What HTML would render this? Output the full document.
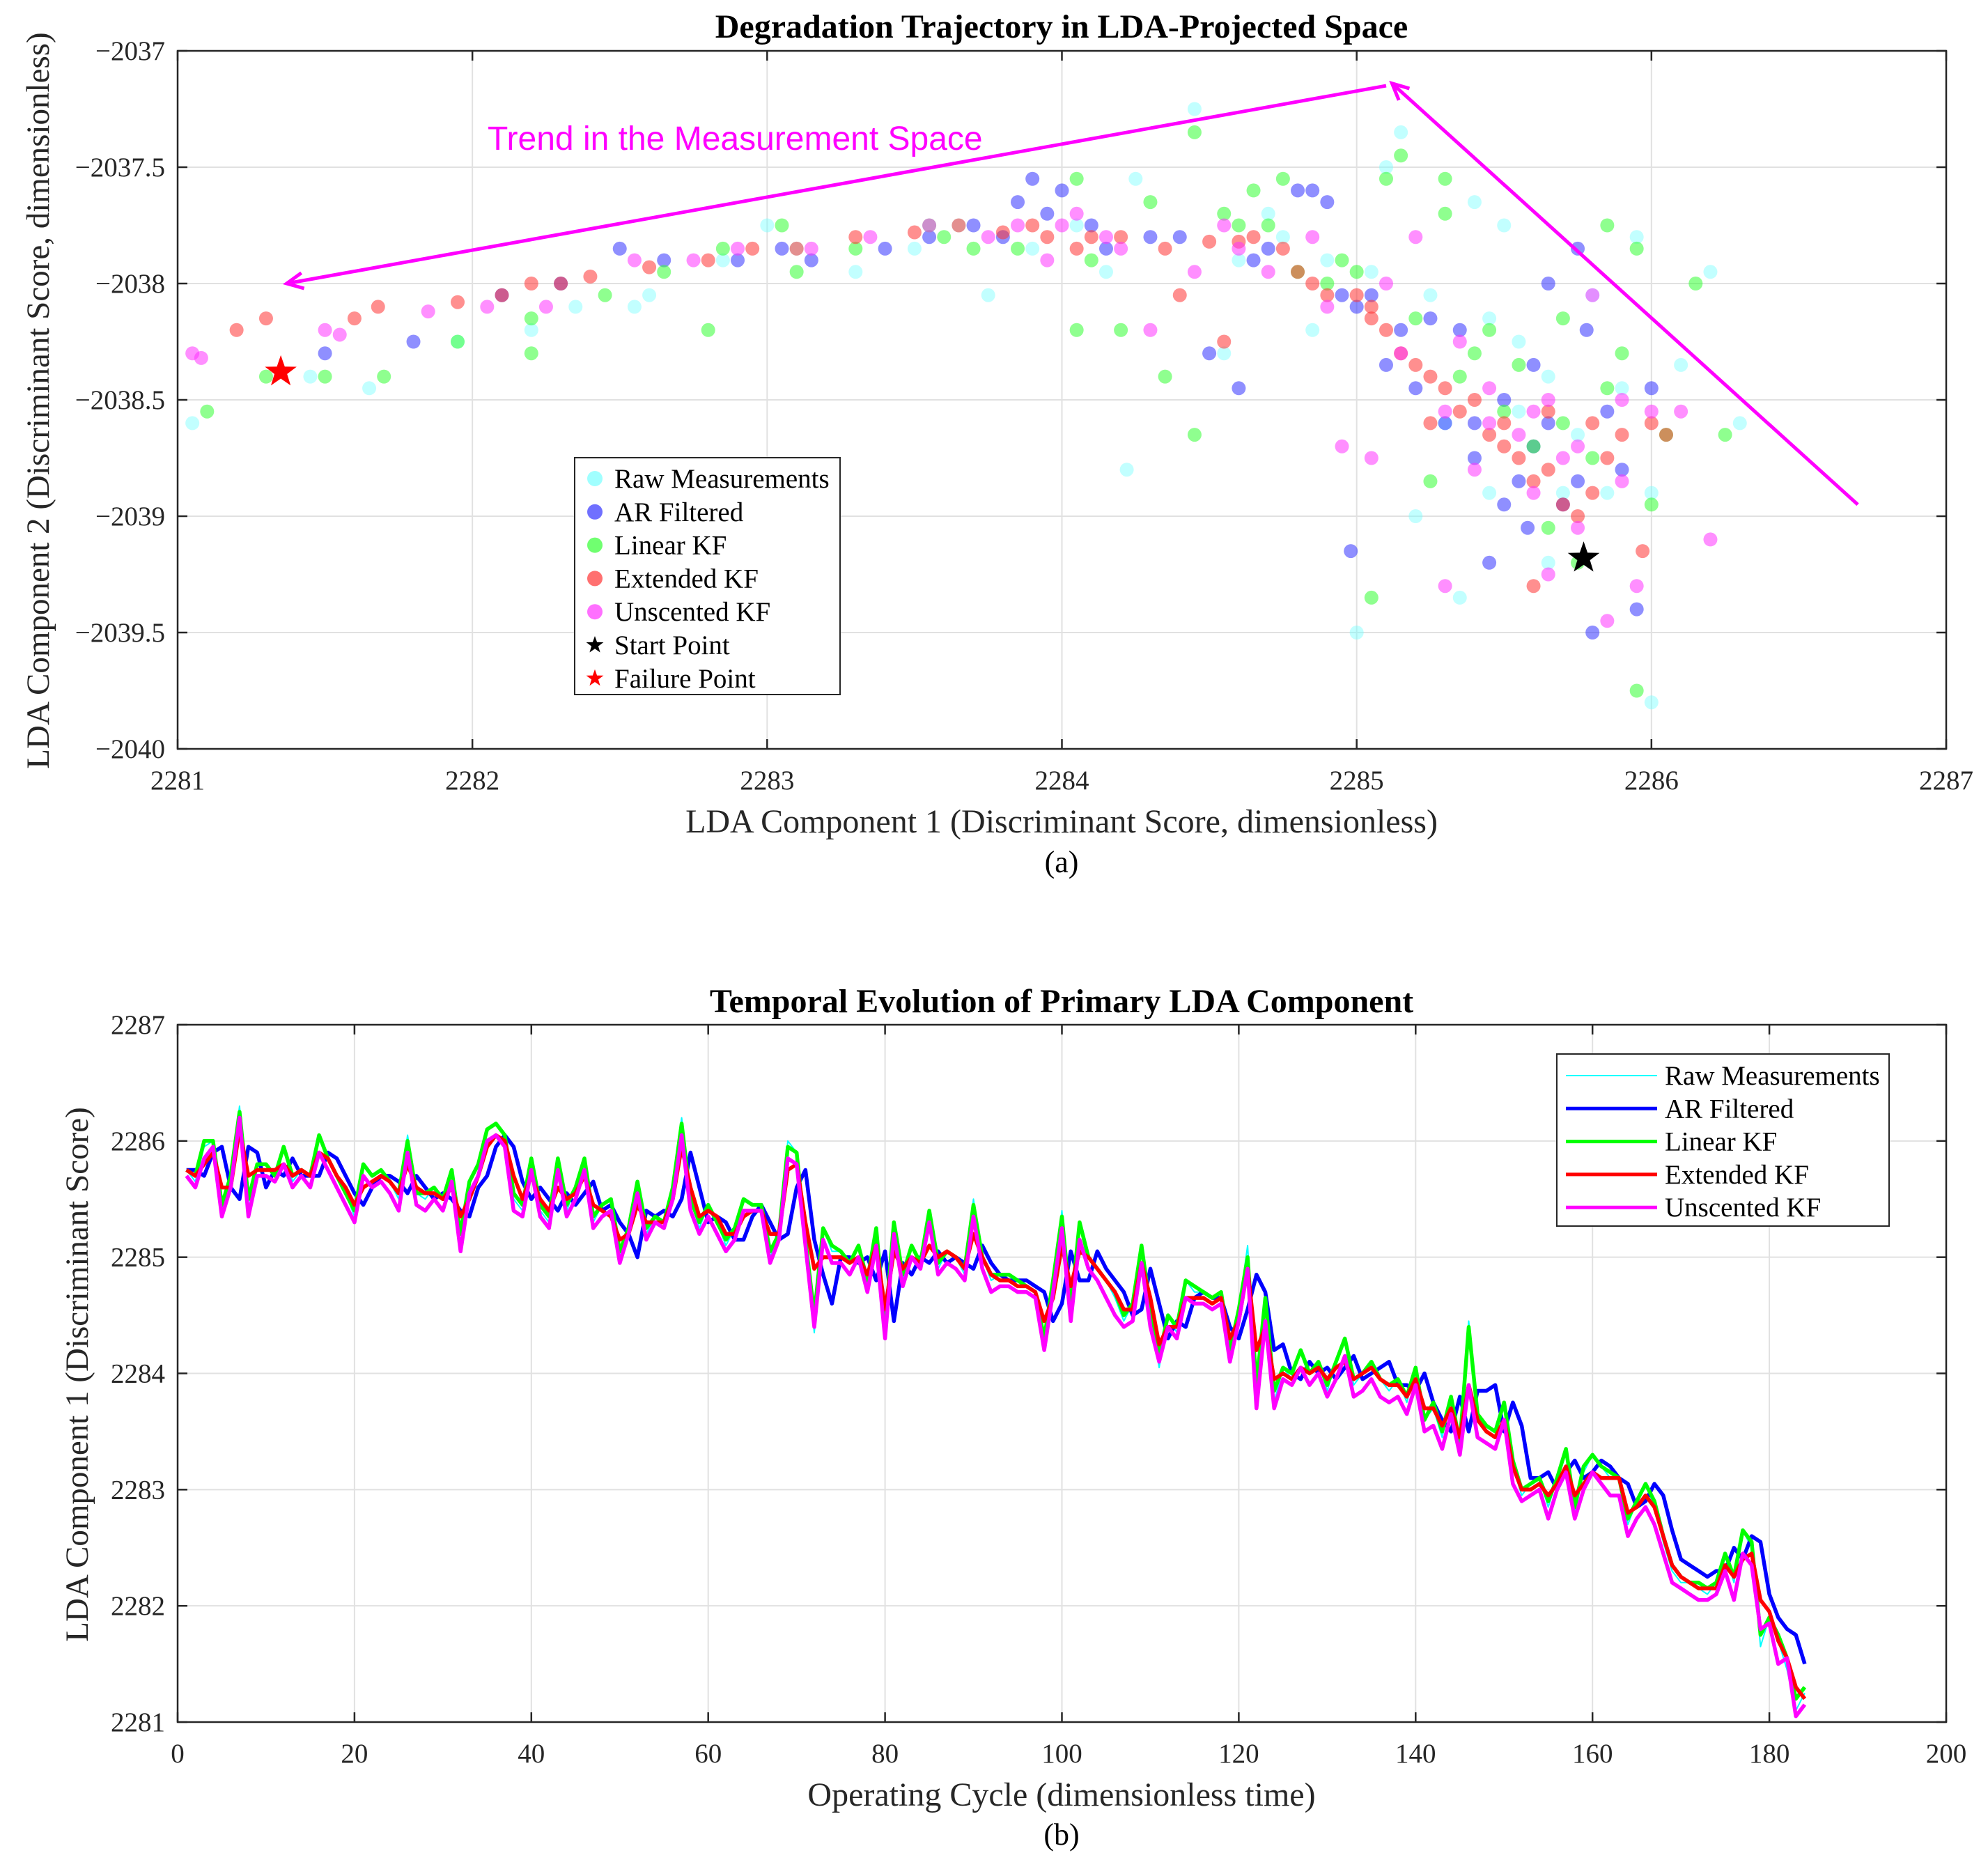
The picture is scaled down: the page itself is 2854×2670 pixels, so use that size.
<!DOCTYPE html>
<html><head><meta charset="utf-8"><style>
html,body{margin:0;padding:0;background:#fff}
svg{display:block;font-family:"Liberation Serif",serif}
</style></head><body>
<svg id="fig" xmlns="http://www.w3.org/2000/svg" width="2854" height="2670" viewBox="0 0 2854 2670">
<rect width="2854" height="2670" fill="#fff"/>
<g id="topPanel"></g>
<g id="botPanel"></g>
</svg>
<script>
// ---------- Scatter data (LDA space) ----------
const rawPts=[[2281.05,-2038.6],[2281.45,-2038.4],[2281.65,-2038.45],[2281.95,-2038.25],[2282.2,-2038.2],[2282.35,-2038.1],[2282.6,-2038.05],[2282.85,-2037.9],[2283.1,-2037.85],[2283.3,-2037.95],[2283.5,-2037.85],[2283.75,-2038.05],[2283.9,-2037.85],[2284.05,-2037.75],[2284.25,-2037.55],[2284.45,-2037.25],[2284.55,-2038.3],[2284.7,-2037.7],[2284.85,-2038.2],[2285.05,-2037.95],[2285.1,-2037.5],[2285.15,-2037.35],[2285.25,-2038.05],[2285.4,-2037.65],[2285.5,-2037.75],[2285.3,-2038.6],[2285.45,-2038.9],[2285.55,-2038.25],[2285.65,-2038.4],[2285.75,-2038.65],[2285.85,-2038.9],[2285.95,-2037.8],[2286.0,-2038.9],[2286.1,-2038.35],[2286.2,-2037.95],[2286.3,-2038.6],[2285.0,-2039.5],[2286.0,-2039.8],[2284.22,-2038.8],[2285.2,-2039.0],[2285.65,-2039.2],[2285.8,-2038.05],[2284.9,-2037.9],[2283.0,-2037.75],[2282.55,-2038.1],[2285.35,-2039.35],[2283.65,-2037.75],[2284.15,-2037.95],[2284.6,-2037.9],[2285.55,-2038.55],[2285.7,-2038.9],[2285.9,-2038.45],[2285.45,-2038.15],[2284.75,-2037.8]];
const arPts=[[2281.5,-2038.3],[2281.8,-2038.25],[2282.1,-2038.05],[2282.3,-2038.0],[2282.5,-2037.85],[2282.65,-2037.9],[2282.9,-2037.9],[2283.05,-2037.85],[2283.15,-2037.9],[2283.4,-2037.85],[2283.55,-2037.8],[2283.7,-2037.75],[2283.85,-2037.65],[2283.95,-2037.7],[2284.0,-2037.6],[2284.15,-2037.85],[2284.3,-2037.8],[2284.4,-2037.8],[2284.5,-2038.3],[2284.6,-2038.45],[2284.7,-2037.85],[2284.8,-2037.6],[2284.9,-2037.65],[2284.95,-2038.05],[2285.0,-2038.1],[2285.1,-2038.35],[2285.2,-2038.45],[2285.3,-2038.6],[2285.35,-2038.2],[2285.4,-2038.75],[2285.5,-2038.5],[2285.55,-2038.85],[2285.6,-2038.35],[2285.65,-2038.6],[2285.7,-2038.95],[2285.75,-2037.85],[2285.8,-2039.5],[2285.85,-2038.55],[2285.9,-2038.8],[2285.95,-2039.4],[2286.0,-2038.45],[2285.5,-2038.95],[2285.45,-2039.2],[2284.98,-2039.15],[2285.65,-2038.0],[2285.25,-2038.15],[2285.78,-2038.2],[2283.9,-2037.55],[2284.85,-2037.6],[2285.58,-2039.05],[2283.8,-2037.8],[2284.1,-2037.75],[2284.65,-2037.9],[2285.05,-2038.05],[2285.4,-2038.6],[2285.6,-2038.7],[2285.75,-2038.85],[2285.15,-2038.2]];
const lkfPts=[[2281.1,-2038.55],[2281.3,-2038.4],[2281.5,-2038.4],[2281.7,-2038.4],[2281.95,-2038.25],[2282.2,-2038.3],[2282.2,-2038.15],[2282.45,-2038.05],[2282.65,-2037.95],[2282.8,-2038.2],[2282.85,-2037.85],[2283.05,-2037.75],[2283.1,-2037.95],[2283.3,-2037.85],[2283.6,-2037.8],[2283.85,-2037.85],[2284.05,-2037.55],[2284.1,-2037.9],[2284.2,-2038.2],[2284.3,-2037.65],[2284.35,-2038.4],[2284.45,-2037.35],[2284.45,-2038.65],[2284.6,-2037.75],[2284.65,-2037.6],[2284.75,-2037.55],[2284.8,-2037.95],[2284.9,-2038.0],[2285.0,-2037.95],[2285.05,-2039.35],[2285.1,-2037.55],[2285.15,-2037.45],[2285.2,-2038.15],[2285.25,-2038.85],[2285.3,-2037.7],[2285.3,-2037.55],[2285.4,-2038.3],[2285.45,-2038.2],[2285.5,-2038.55],[2285.6,-2038.7],[2285.65,-2039.05],[2285.7,-2038.15],[2285.75,-2039.2],[2285.8,-2038.75],[2285.85,-2037.75],[2285.9,-2038.3],[2285.95,-2037.85],[2286.0,-2038.95],[2286.05,-2038.65],[2286.15,-2038.0],[2286.25,-2038.65],[2285.95,-2039.75],[2284.05,-2038.2],[2283.55,-2037.75],[2283.7,-2037.85],[2284.55,-2037.7],[2284.7,-2037.75],[2284.95,-2037.9],[2285.35,-2038.4],[2285.55,-2038.35],[2285.7,-2038.6],[2285.85,-2038.45]];
const ekfPts=[[2281.2,-2038.2],[2281.3,-2038.15],[2281.6,-2038.15],[2281.68,-2038.1],[2281.95,-2038.08],[2282.1,-2038.05],[2282.2,-2038.0],[2282.3,-2038.0],[2282.4,-2037.97],[2282.6,-2037.93],[2282.8,-2037.9],[2282.95,-2037.85],[2283.1,-2037.85],[2283.3,-2037.8],[2283.5,-2037.78],[2283.65,-2037.75],[2283.8,-2037.78],[2283.95,-2037.8],[2284.05,-2037.85],[2284.2,-2037.8],[2284.35,-2037.85],[2284.5,-2037.82],[2284.6,-2037.82],[2284.75,-2037.85],[2284.8,-2037.95],[2284.9,-2038.05],[2285.0,-2038.05],[2285.05,-2038.15],[2285.1,-2038.2],[2285.15,-2038.3],[2285.2,-2038.35],[2285.3,-2038.45],[2285.35,-2038.55],[2285.4,-2038.5],[2285.45,-2038.65],[2285.5,-2038.6],[2285.55,-2038.75],[2285.6,-2038.85],[2285.65,-2038.8],[2285.7,-2038.95],[2285.75,-2039.0],[2285.8,-2038.9],[2285.85,-2038.75],[2285.9,-2038.65],[2286.0,-2038.6],[2285.6,-2039.3],[2285.97,-2039.15],[2284.55,-2038.25],[2285.25,-2038.6],[2286.05,-2038.65],[2284.4,-2038.05],[2283.9,-2037.75],[2284.1,-2037.8],[2284.65,-2037.8],[2284.85,-2038.0],[2285.05,-2038.1],[2285.25,-2038.4],[2285.5,-2038.7],[2285.65,-2038.55],[2285.8,-2038.6]];
const ukfPts=[[2281.05,-2038.3],[2281.08,-2038.32],[2281.5,-2038.2],[2281.55,-2038.22],[2281.85,-2038.12],[2282.05,-2038.1],[2282.25,-2038.1],[2282.55,-2037.9],[2282.75,-2037.9],[2282.9,-2037.85],[2283.15,-2037.85],[2283.35,-2037.8],[2283.55,-2037.75],[2283.75,-2037.8],[2283.95,-2037.9],[2284.05,-2037.7],[2284.2,-2037.85],[2284.3,-2038.2],[2284.45,-2037.95],[2284.55,-2037.75],[2284.7,-2037.95],[2284.85,-2037.8],[2284.95,-2038.7],[2285.05,-2038.75],[2285.1,-2038.0],[2285.2,-2037.8],[2285.3,-2038.55],[2285.35,-2038.25],[2285.4,-2038.8],[2285.45,-2038.45],[2285.55,-2038.65],[2285.6,-2038.9],[2285.65,-2039.25],[2285.7,-2038.75],[2285.75,-2039.05],[2285.8,-2038.05],[2285.85,-2039.45],[2285.9,-2038.5],[2285.95,-2039.3],[2286.0,-2038.55],[2286.1,-2038.55],[2286.2,-2039.1],[2285.3,-2039.3],[2285.9,-2038.85],[2285.65,-2038.5],[2284.0,-2037.75],[2283.85,-2037.75],[2284.15,-2037.8],[2284.6,-2037.85],[2284.9,-2038.1],[2285.15,-2038.3],[2285.45,-2038.6],[2285.6,-2038.55],[2285.75,-2038.7]];
const startPt=[2285.77,-2039.18];
const failPt=[2281.35,-2038.38];
const arrow1=[[2285.1,-2037.15],[2281.37,-2038.0]];
const arrow2=[[2286.7,-2038.95],[2285.12,-2037.14]];
const topXTicks=[2281,2282,2283,2284,2285,2286,2287];
const topYTicks=[-2037,-2037.5,-2038,-2038.5,-2039,-2039.5,-2040];
const topYLabels=["\u22122037","\u22122037.5","\u22122038","\u22122038.5","\u22122039","\u22122039.5","\u22122040"];

// ---------- Time series data ----------
const rawSeries=[2285.75,2285.65,2285.95,2286.0,2285.4,2285.7,2286.3,2285.4,2285.8,2285.8,
2285.7,2285.95,2285.65,2285.75,2285.7,2286.05,2285.85,2285.7,2285.55,2285.35,
2285.8,2285.7,2285.75,2285.65,2285.5,2286.05,2285.55,2285.5,2285.6,2285.5,
2285.75,2285.1,2285.65,2285.8,2286.1,2286.15,2286.05,2285.5,2285.4,2285.85,
2285.4,2285.3,2285.85,2285.4,2285.6,2285.85,2285.3,2285.45,2285.5,2285.0,
2285.25,2285.65,2285.2,2285.35,2285.3,2285.6,2286.2,2285.5,2285.25,2285.45,
2285.3,2285.1,2285.25,2285.5,2285.45,2285.45,2285.0,2285.2,2286.0,2285.9,
2285.15,2284.35,2285.25,2285.05,2285.05,2284.95,2285.1,2284.75,2285.25,2284.3,
2285.3,2284.8,2285.1,2284.95,2285.4,2284.9,2285.05,2285.0,2284.85,2285.5,
2285.0,2284.8,2284.85,2284.85,2284.8,2284.75,2284.7,2284.2,2284.8,2285.4,
2284.5,2285.3,2285.0,2284.9,2284.8,2284.65,2284.45,2284.6,2285.1,2284.5,
2284.05,2284.5,2284.35,2284.8,2284.7,2284.7,2284.65,2284.7,2284.1,2284.55,
2285.1,2283.8,2284.65,2283.75,2284.05,2283.95,2284.2,2284.0,2284.1,2283.85,
2284.1,2284.3,2283.9,2284.0,2284.1,2283.95,2283.85,2283.95,2283.75,2284.05,
2283.6,2283.7,2283.45,2283.8,2283.35,2284.45,2283.6,2283.5,2283.45,2283.75,
2283.2,2282.95,2283.05,2283.1,2282.85,2283.1,2283.35,2282.8,2283.15,2283.3,
2283.2,2283.1,2283.1,2282.7,2282.9,2283.05,2282.85,2282.55,2282.3,2282.2,
2282.2,2282.15,2282.1,2282.2,2282.45,2282.2,2282.65,2282.5,2281.65,2281.9,
2281.7,2281.45,2281.1,2281.25];
const lkfSeries=[2285.75,2285.7,2286.0,2286.0,2285.45,2285.7,2286.25,2285.5,2285.8,2285.8,
2285.7,2285.95,2285.7,2285.75,2285.7,2286.05,2285.85,2285.7,2285.55,2285.4,
2285.8,2285.7,2285.75,2285.65,2285.55,2286.0,2285.55,2285.55,2285.6,2285.5,
2285.75,2285.2,2285.65,2285.8,2286.1,2286.15,2286.05,2285.55,2285.45,2285.85,
2285.45,2285.35,2285.85,2285.45,2285.6,2285.85,2285.35,2285.45,2285.5,2285.05,
2285.25,2285.65,2285.25,2285.35,2285.3,2285.6,2286.15,2285.5,2285.3,2285.45,
2285.3,2285.15,2285.25,2285.5,2285.45,2285.45,2285.05,2285.2,2285.95,2285.9,
2285.15,2284.5,2285.25,2285.1,2285.05,2284.95,2285.1,2284.8,2285.25,2284.4,
2285.3,2284.85,2285.1,2284.95,2285.4,2284.95,2285.05,2285.0,2284.9,2285.45,
2285.0,2284.85,2284.85,2284.85,2284.8,2284.75,2284.7,2284.3,2284.8,2285.35,
2284.55,2285.3,2285.0,2284.9,2284.8,2284.7,2284.5,2284.6,2285.1,2284.55,
2284.15,2284.5,2284.4,2284.8,2284.75,2284.7,2284.65,2284.7,2284.2,2284.55,
2285.0,2283.9,2284.65,2283.85,2284.05,2284.0,2284.2,2284.0,2284.1,2283.9,
2284.1,2284.3,2283.95,2284.0,2284.1,2283.95,2283.9,2283.95,2283.8,2284.05,
2283.6,2283.75,2283.5,2283.8,2283.4,2284.4,2283.65,2283.55,2283.5,2283.75,
2283.25,2283.0,2283.05,2283.1,2282.9,2283.1,2283.35,2282.85,2283.2,2283.3,
2283.2,2283.15,2283.1,2282.75,2282.9,2283.05,2282.9,2282.6,2282.35,2282.25,
2282.2,2282.2,2282.15,2282.2,2282.45,2282.25,2282.65,2282.55,2281.75,2281.9,
2281.75,2281.55,2281.2,2281.3];
const ekfSeries=[2285.75,2285.7,2285.8,2285.9,2285.6,2285.6,2286.1,2285.7,2285.75,2285.75,
2285.75,2285.8,2285.7,2285.75,2285.7,2285.9,2285.85,2285.7,2285.6,2285.45,
2285.6,2285.65,2285.7,2285.65,2285.55,2285.8,2285.6,2285.55,2285.55,2285.5,
2285.6,2285.35,2285.5,2285.7,2285.95,2286.05,2286.0,2285.7,2285.5,2285.7,
2285.5,2285.4,2285.6,2285.5,2285.55,2285.7,2285.45,2285.4,2285.35,2285.15,
2285.2,2285.45,2285.3,2285.3,2285.3,2285.5,2285.95,2285.6,2285.35,2285.4,
2285.35,2285.2,2285.2,2285.35,2285.4,2285.4,2285.2,2285.2,2285.75,2285.8,
2285.3,2284.9,2285.0,2285.0,2285.0,2284.95,2285.0,2284.85,2285.1,2284.55,
2285.05,2284.9,2285.0,2284.95,2285.1,2285.0,2285.05,2285.0,2284.9,2285.2,
2285.0,2284.85,2284.8,2284.8,2284.75,2284.75,2284.7,2284.45,2284.65,2285.1,
2284.75,2285.05,2285.0,2284.9,2284.8,2284.7,2284.55,2284.55,2284.95,2284.65,
2284.25,2284.4,2284.4,2284.65,2284.65,2284.65,2284.6,2284.65,2284.3,2284.45,
2284.9,2284.2,2284.4,2283.95,2284.0,2283.95,2284.05,2284.0,2284.05,2283.95,
2284.05,2284.1,2283.95,2284.0,2284.05,2283.95,2283.9,2283.9,2283.8,2283.95,
2283.7,2283.7,2283.55,2283.7,2283.45,2283.9,2283.6,2283.5,2283.45,2283.6,
2283.2,2283.0,2283.0,2283.05,2282.95,2283.05,2283.2,2282.95,2283.05,2283.15,
2283.1,2283.1,2283.1,2282.8,2282.85,2282.95,2282.85,2282.6,2282.35,2282.25,
2282.2,2282.15,2282.15,2282.15,2282.35,2282.25,2282.4,2282.45,2282.05,2281.95,
2281.7,2281.55,2281.3,2281.2];
const ukfSeries=[2285.7,2285.6,2285.85,2285.95,2285.35,2285.6,2286.2,2285.35,2285.7,2285.7,
2285.65,2285.8,2285.6,2285.7,2285.6,2285.9,2285.75,2285.6,2285.45,2285.3,
2285.7,2285.6,2285.65,2285.55,2285.4,2285.9,2285.45,2285.4,2285.5,2285.4,
2285.65,2285.05,2285.55,2285.7,2286.0,2286.05,2285.95,2285.4,2285.35,2285.75,
2285.35,2285.25,2285.75,2285.35,2285.5,2285.75,2285.25,2285.35,2285.4,2284.95,
2285.2,2285.55,2285.15,2285.3,2285.25,2285.5,2286.05,2285.4,2285.2,2285.35,
2285.2,2285.05,2285.15,2285.4,2285.4,2285.4,2284.95,2285.15,2285.85,2285.8,
2285.1,2284.4,2285.15,2284.95,2284.95,2284.85,2285.0,2284.7,2285.1,2284.3,
2285.2,2284.75,2285.0,2284.9,2285.3,2284.85,2284.95,2284.9,2284.8,2285.35,
2284.9,2284.7,2284.75,2284.75,2284.7,2284.7,2284.65,2284.2,2284.7,2285.25,
2284.45,2285.15,2284.9,2284.8,2284.65,2284.5,2284.4,2284.45,2284.95,2284.4,
2284.1,2284.4,2284.3,2284.65,2284.6,2284.6,2284.55,2284.6,2284.1,2284.45,
2284.9,2283.7,2284.45,2283.7,2283.95,2283.9,2284.05,2283.9,2284.0,2283.8,
2283.95,2284.15,2283.8,2283.85,2283.95,2283.8,2283.75,2283.8,2283.65,2283.9,
2283.5,2283.55,2283.35,2283.65,2283.3,2283.9,2283.45,2283.4,2283.35,2283.6,
2283.05,2282.9,2282.95,2283.0,2282.75,2283.0,2283.15,2282.75,2283.0,2283.15,
2283.05,2282.95,2282.95,2282.6,2282.75,2282.85,2282.7,2282.45,2282.2,2282.15,
2282.1,2282.05,2282.05,2282.1,2282.3,2282.05,2282.45,2282.35,2281.8,2281.85,
2281.5,2281.55,2281.05,2281.15];
const arSeries=[2285.75,2285.75,2285.7,2285.9,2285.95,2285.6,2285.5,2285.95,2285.9,2285.6,
2285.75,2285.7,2285.85,2285.7,2285.7,2285.7,2285.9,2285.85,2285.7,2285.55,
2285.45,2285.6,2285.7,2285.7,2285.65,2285.55,2285.7,2285.6,2285.5,2285.55,
2285.5,2285.4,2285.35,2285.6,2285.7,2285.95,2286.05,2285.95,2285.65,2285.5,
2285.6,2285.5,2285.4,2285.55,2285.45,2285.55,2285.65,2285.4,2285.45,2285.3,
2285.2,2285.0,2285.4,2285.35,2285.4,2285.35,2285.5,2285.9,2285.6,2285.3,
2285.35,2285.3,2285.15,2285.15,2285.35,2285.45,2285.3,2285.15,2285.2,2285.6,
2285.75,2285.15,2284.85,2284.6,2285.0,2285.0,2284.95,2285.0,2284.8,2285.05,
2284.45,2284.95,2284.85,2285.0,2284.95,2285.05,2284.95,2285.0,2284.95,2284.9,
2285.1,2284.95,2284.85,2284.8,2284.8,2284.8,2284.75,2284.7,2284.45,2284.6,
2285.05,2284.8,2284.8,2285.05,2284.9,2284.8,2284.7,2284.5,2284.55,2284.9,
2284.6,2284.3,2284.45,2284.4,2284.65,2284.7,2284.65,2284.65,2284.4,2284.3,
2284.55,2284.85,2284.7,2284.2,2284.25,2284.0,2283.95,2284.1,2284.0,2284.05,
2283.95,2284.05,2284.15,2283.95,2284.0,2284.05,2284.1,2283.9,2283.9,2283.85,
2284.0,2283.75,2283.6,2283.5,2283.8,2283.5,2283.85,2283.85,2283.9,2283.5,
2283.75,2283.55,2283.1,2283.1,2283.15,2283.0,2283.15,2283.25,2283.1,2283.15,
2283.25,2283.2,2283.1,2283.05,2282.85,2282.9,2283.05,2282.95,2282.65,2282.4,
2282.35,2282.3,2282.25,2282.3,2282.3,2282.5,2282.4,2282.6,2282.55,2282.1,
2281.9,2281.8,2281.75,2281.5];
const botXTicks=[0,20,40,60,80,100,120,140,160,180,200];
const botYTicks=[2281,2282,2283,2284,2285,2286,2287];

// ---------- helpers ----------
const NS="http://www.w3.org/2000/svg";
function mk(parent,tag,attrs,text){const e=document.createElementNS(NS,tag);for(const k in attrs)e.setAttribute(k,attrs[k]);if(text!==undefined)e.textContent=text;parent.appendChild(e);return e;}
const gTop=document.getElementById('topPanel'), gBot=document.getElementById('botPanel');

// ---------- TOP PANEL ----------
const TL=255,TR=2794,TT=73,TB=1075;
const tx=v=>TL+(v-2281)/6*(TR-TL);
const ty=v=>TT+(-2037-v)/3*(TB-TT);
topXTicks.forEach(v=>{const l=mk(gTop,'line',{x1:tx(v),x2:tx(v),y1:TT,y2:TB,stroke:'#e1e1e1','stroke-width':2});

});
topYTicks.forEach(v=>{const l=mk(gTop,'line',{x1:TL,x2:TR,y1:ty(v),y2:ty(v),stroke:'#e1e1e1','stroke-width':2});

});
function scatter(pts,color,op,name){const g=mk(gTop,'g',{});


pts.forEach(p=>{const c=mk(g,'circle',{cx:tx(p[0]),cy:ty(p[1]),r:10,fill:color,'fill-opacity':op});

});}
scatter(rawPts,'#7ff','0.45','raw-scatter');
scatter(arPts,'#33f','0.55','ar-scatter');
scatter(lkfPts,'#3f3','0.55','linear-kf-scatter');
scatter(ekfPts,'#f33','0.55','extended-kf-scatter');
scatter(ukfPts,'#f3f','0.55','unscented-kf-scatter');
function star(parent,cx,cy,r,color,name){let d='';for(let i=0;i<10;i++){const rr=i%2?r*0.4:r;const a=-Math.PI/2+i*Math.PI/5;d+=(i?'L':'M')+(cx+rr*Math.cos(a)).toFixed(1)+' '+(cy+rr*Math.sin(a)).toFixed(1);}
const s=mk(parent,'path',{d:d+'Z',fill:color});

return s;}
star(gTop,tx(startPt[0]),ty(startPt[1]),24,'#000','start-point-marker');
star(gTop,tx(failPt[0]),ty(failPt[1]),24,'#f00','failure-point-marker');
function arrow(a,name){const x1=tx(a[0][0]),y1=ty(a[0][1]),x2=tx(a[1][0]),y2=ty(a[1][1]);
const g=mk(gTop,'g',{});


mk(g,'line',{x1:x1,y1:y1,x2:x2,y2:y2,stroke:'#f0f','stroke-width':5});
const ang=Math.atan2(y2-y1,x2-x1),L=26,W=0.45;
mk(g,'polyline',{points:`${x2-L*Math.cos(ang-W)},${y2-L*Math.sin(ang-W)} ${x2},${y2} ${x2-L*Math.cos(ang+W)},${y2-L*Math.sin(ang+W)}`,fill:'none',stroke:'#f0f','stroke-width':5});}
arrow(arrow1,'trend-arrow-left');
arrow(arrow2,'trend-arrow-up');
mk(gTop,'text',{x:700,y:215,'font-family':'Liberation Sans, sans-serif','font-size':48,fill:'#f0f',},'Trend in the Measurement Space');
mk(gTop,'rect',{x:TL,y:TT,width:TR-TL,height:TB-TT,fill:'none',stroke:'#262626','stroke-width':2.5,});
topXTicks.forEach(v=>{mk(gTop,'line',{x1:tx(v),x2:tx(v),y1:TB,y2:TB-14,stroke:'#262626','stroke-width':2.5});mk(gTop,'line',{x1:tx(v),x2:tx(v),y1:TT,y2:TT+14,stroke:'#262626','stroke-width':2.5});
const t=mk(gTop,'text',{x:tx(v),y:TB+58,'text-anchor':'middle','font-size':39,fill:'#262626'},String(v));

});
topYTicks.forEach((v,i)=>{mk(gTop,'line',{x1:TL,x2:TL+14,y1:ty(v),y2:ty(v),stroke:'#262626','stroke-width':2.5});mk(gTop,'line',{x1:TR,x2:TR-14,y1:ty(v),y2:ty(v),stroke:'#262626','stroke-width':2.5});
const t=mk(gTop,'text',{x:TL-18,y:ty(v)+13,'text-anchor':'end','font-size':39,fill:'#262626'},topYLabels[i]);

});
mk(gTop,'text',{x:1524,y:54,'text-anchor':'middle','font-size':48,'font-weight':'bold',fill:'#000',},'Degradation Trajectory in LDA-Projected Space');
mk(gTop,'text',{x:1524,y:1195,'text-anchor':'middle','font-size':48,fill:'#262626',},'LDA Component 1 (Discriminant Score, dimensionless)');
mk(gTop,'text',{x:1524,y:1252,'text-anchor':'middle','font-size':44,fill:'#000',},'(a)');
mk(gTop,'text',{x:0,y:0,transform:'translate(70,575) rotate(-90)','text-anchor':'middle','font-size':47,fill:'#262626',},'LDA Component 2 (Discriminant Score, dimensionless)');
const lg=mk(gTop,'g',{});


mk(lg,'rect',{x:825,y:657,width:381,height:340,fill:'#fff',stroke:'#262626','stroke-width':2});
const topLegend=[['Raw Measurements','#7ff','c'],['AR Filtered','#33f','c'],['Linear KF','#3f3','c'],['Extended KF','#f33','c'],['Unscented KF','#f3f','c'],['Start Point','#000','s'],['Failure Point','#f00','s']];
topLegend.forEach((e,i)=>{const y=687+i*47.8;const g=mk(lg,'g',{});


if(e[2]==='c')mk(g,'circle',{cx:854,cy:y,r:11,fill:e[1],'fill-opacity':0.7});else star(g,854,y,13,e[1],'legend-star');
mk(g,'text',{x:882,y:y+13,'font-size':39,fill:'#000'},e[0]);});

// ---------- BOTTOM PANEL ----------
const BL=255,BR=2794,BT=1471,BB=2472;
const bx=t=>BL+t/200*(BR-BL);
const by=v=>BT+(2287-v)/6*(BB-BT);
botXTicks.forEach(v=>{const l=mk(gBot,'line',{x1:bx(v),x2:bx(v),y1:BT,y2:BB,stroke:'#e1e1e1','stroke-width':2});

});
botYTicks.forEach(v=>{const l=mk(gBot,'line',{x1:BL,x2:BR,y1:by(v),y2:by(v),stroke:'#e1e1e1','stroke-width':2});

});
function series(arr,color,w,name){const d=arr.map((v,i)=>(i?'L':'M')+bx(i+1).toFixed(1)+' '+by(v).toFixed(1)).join('');
const p=mk(gBot,'path',{d:d,fill:'none',stroke:color,'stroke-width':w,'stroke-linejoin':'round'});

}
series(rawSeries,'#0ff',2,'raw-line');
series(arSeries,'#00f',5.5,'ar-filtered-line');
series(lkfSeries,'#0f0',5.5,'linear-kf-line');
series(ekfSeries,'#f00',5.5,'extended-kf-line');
series(ukfSeries,'#f0f',5.5,'unscented-kf-line');
mk(gBot,'rect',{x:BL,y:BT,width:BR-BL,height:BB-BT,fill:'none',stroke:'#262626','stroke-width':2.5,});
botXTicks.forEach(v=>{mk(gBot,'line',{x1:bx(v),x2:bx(v),y1:BB,y2:BB-14,stroke:'#262626','stroke-width':2.5});mk(gBot,'line',{x1:bx(v),x2:bx(v),y1:BT,y2:BT+14,stroke:'#262626','stroke-width':2.5});
const t=mk(gBot,'text',{x:bx(v),y:BB+58,'text-anchor':'middle','font-size':39,fill:'#262626'},String(v));

});
botYTicks.forEach(v=>{mk(gBot,'line',{x1:BL,x2:BL+14,y1:by(v),y2:by(v),stroke:'#262626','stroke-width':2.5});mk(gBot,'line',{x1:BR,x2:BR-14,y1:by(v),y2:by(v),stroke:'#262626','stroke-width':2.5});
const t=mk(gBot,'text',{x:BL-18,y:by(v)+13,'text-anchor':'end','font-size':39,fill:'#262626'},String(v));

});
mk(gBot,'text',{x:1524,y:1453,'text-anchor':'middle','font-size':48,'font-weight':'bold',fill:'#000',},'Temporal Evolution of Primary LDA Component');
mk(gBot,'text',{x:1524,y:2592,'text-anchor':'middle','font-size':48,fill:'#262626',},'Operating Cycle (dimensionless time)');
mk(gBot,'text',{x:1524,y:2648,'text-anchor':'middle','font-size':44,fill:'#000',},'(b)');
mk(gBot,'text',{x:0,y:0,transform:'translate(126,1973) rotate(-90)','text-anchor':'middle','font-size':47,fill:'#262626',},'LDA Component 1 (Discriminant Score)');
const bl=mk(gBot,'g',{});


mk(bl,'rect',{x:2235,y:1513,width:477,height:247,fill:'#fff',stroke:'#262626','stroke-width':2});
const botLegend=[['Raw Measurements','#0ff',2],['AR Filtered','#00f',5],['Linear KF','#0f0',5],['Extended KF','#f00',5],['Unscented KF','#f0f',5]];
botLegend.forEach((e,i)=>{const y=1544+i*47.3;const g=mk(bl,'g',{});


mk(g,'line',{x1:2248,x2:2379,y1:y,y2:y,stroke:e[1],'stroke-width':e[2]});
mk(g,'text',{x:2390,y:y+13,'font-size':39,fill:'#000'},e[0]);});
</script>
</body></html>
